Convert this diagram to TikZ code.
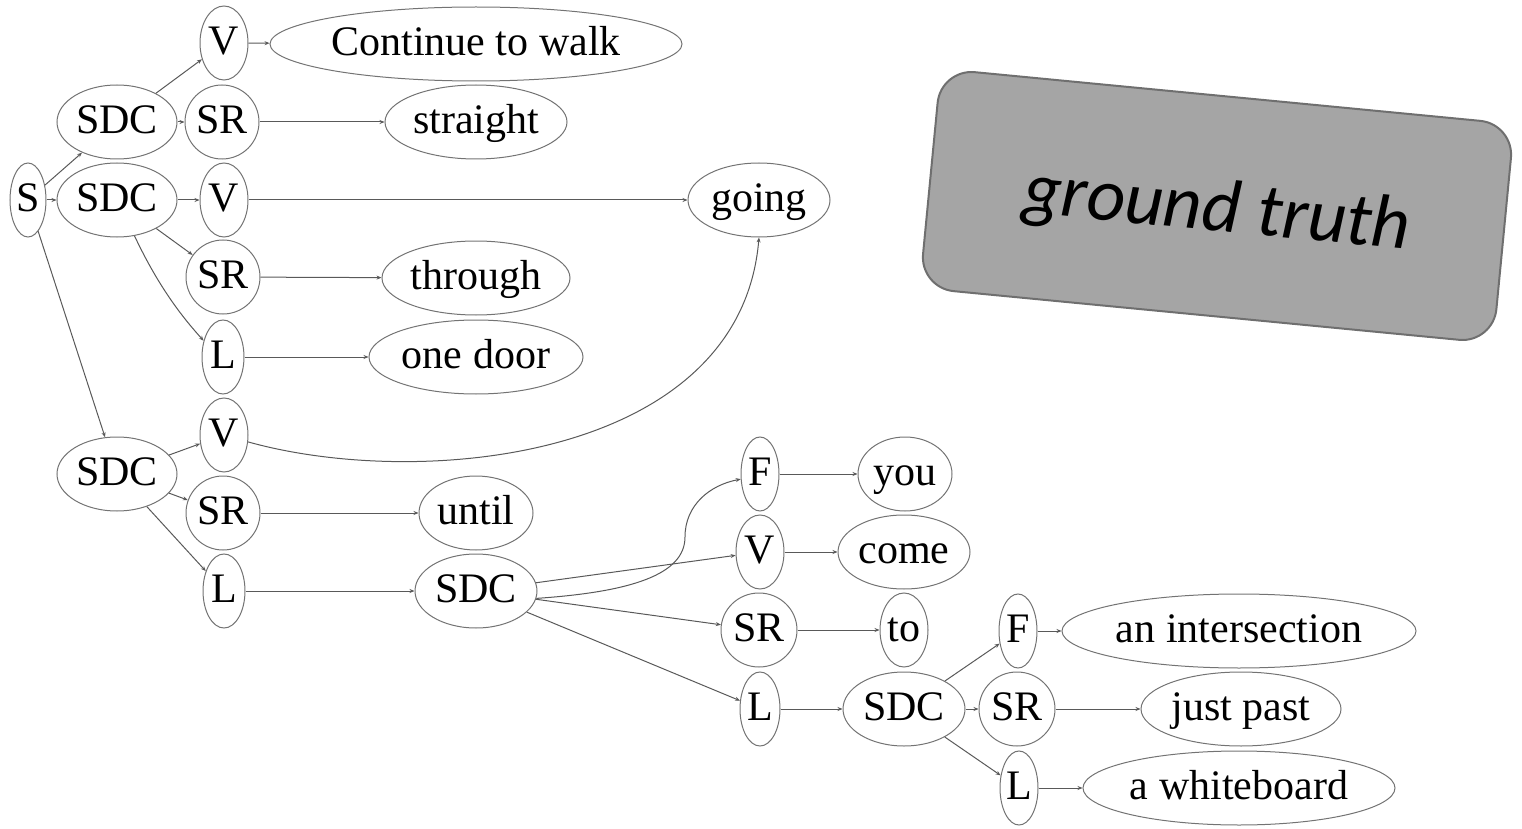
\documentclass[tikz,border=0pt]{standalone}
\usepackage{fontspec}
\setmainfont{Liberation Serif}
\newfontfamily\carlito{Carlito}
\usetikzlibrary{shapes.geometric,arrows.meta}
\definecolor{boxfill}{HTML}{A5A5A5}
\definecolor{boxline}{HTML}{6F6F6F}
\tikzset{
  el/.style={ellipse, draw=black!55, line width=0.5pt, inner sep=0pt, minimum height=37pt,
             text height=15.5pt, text depth=4pt,
             font=\fontsize{21}{23}\selectfont},
  conn/.style={draw=black!65, line width=0.5pt, -{Stealth[length=2.5pt,width=2pt]}},
}
\begin{document}
\begin{tikzpicture}[x=0.5pt,y=-0.5pt]
\useasboundingbox (0,0) rectangle (1522,829);
% nodes
\node[el, minimum width=18pt] (s) at (28,200) {S};
\node[el, minimum width=60pt] (sdcA) at (117,122) {SDC};
\node[el, minimum width=60pt] (sdcB) at (117,200) {SDC};
\node[el, minimum width=60pt] (sdcC) at (117,474) {SDC};
\node[el, minimum width=24pt] (vA) at (224,43) {V};
\node[el, minimum width=37pt] (srA) at (222,122) {SR};
\node[el, minimum width=24pt] (vB) at (224,200) {V};
\node[el, minimum width=37pt] (srB) at (223,277) {SR};
\node[el, minimum width=21pt] (lA) at (223,357) {L};
\node[el, minimum width=24pt] (vC) at (224,435) {V};
\node[el, minimum width=37pt] (srC) at (223,513) {SR};
\node[el, minimum width=21pt] (lB) at (224,591) {L};
\node[el, minimum width=206pt] (contw) at (476,44) {Continue to walk};
\node[el, minimum width=91pt] (straight) at (476,122) {straight};
\node[el, minimum width=71pt] (going) at (759,200) {going};
\node[el, minimum width=94pt] (through) at (476,278) {through};
\node[el, minimum width=107pt] (onedoor) at (476,357) {one door};
\node[el, minimum width=57pt] (until) at (476,513) {until};
\node[el, minimum width=61pt] (sdcD) at (476,591) {SDC};
\node[el, minimum width=19pt] (fA) at (760,474) {F};
\node[el, minimum width=47pt] (you) at (905,474) {you};
\node[el, minimum width=24pt] (vD) at (760,552) {V};
\node[el, minimum width=66pt] (come) at (904,552) {come};
\node[el, minimum width=38pt] (srD) at (759,630) {SR};
\node[el, minimum width=24pt] (to) at (904,630) {to};
\node[el, minimum width=20pt] (lC) at (760,709) {L};
\node[el, minimum width=61pt] (sdcE) at (904,709) {SDC};
\node[el, minimum width=19pt] (fB) at (1018,631) {F};
\node[el, minimum width=177pt] (inter) at (1239,631) {an intersection};
\node[el, minimum width=38pt] (srE) at (1017,709) {SR};
\node[el, minimum width=100pt] (justpast) at (1241,709) {just past};
\node[el, minimum width=19pt] (lD) at (1019,788) {L};
\node[el, minimum width=156pt] (white) at (1239,788) {a whiteboard};
% connectors
\draw[conn] (s) -- (sdcA);
\draw[conn] (s) -- (sdcB);
\draw[conn] (s) -- (sdcC);
\draw[conn] (sdcA) -- (vA);
\draw[conn] (sdcA) -- (srA);
\draw[conn] (vA) -- (contw);
\draw[conn] (srA) -- (straight);
\draw[conn] (sdcB) -- (vB);
\draw[conn] (sdcB) -- (srB);
\draw[conn] (sdcB.-64) .. controls (160,290) and (185,320) .. (lA.140);
\draw[conn] (vB) -- (going);
\draw[conn] (srB) -- (through);
\draw[conn] (lA) -- (onedoor);
\draw[conn] (sdcC) -- (vC);
\draw[conn] (sdcC) -- (srC);
\draw[conn] (sdcC) -- (lB);
\draw[conn] (vC.-16) .. controls (420,490) and (740,460) .. (going.south);
\draw[conn] (srC) -- (until);
\draw[conn] (lB) -- (sdcD);
\draw[conn] (sdcD.-7) .. controls (630,592) and (685,575) .. (685,537)
                      .. controls (685,505) and (710,485) .. (fA.195);
\draw[conn] (sdcD) -- (vD);
\draw[conn] (sdcD) -- (srD);
\draw[conn] (sdcD) -- (lC);
\draw[conn] (fA) -- (you);
\draw[conn] (vD) -- (come);
\draw[conn] (srD) -- (to);
\draw[conn] (lC) -- (sdcE);
\draw[conn] (sdcE) -- (fB);
\draw[conn] (sdcE) -- (srE);
\draw[conn] (sdcE) -- (lD);
\draw[conn] (fB) -- (inter);
\draw[conn] (srE) -- (justpast);
\draw[conn] (lD) -- (white);
% ground truth box
\node[draw=boxline, fill=boxfill, line width=1pt, rounded corners=17pt,
      minimum width=288pt, minimum height=110pt, rotate=-5.5,
      text height=32pt, text depth=7pt,
      font=\carlito\itshape\fontsize{37.5}{40}\selectfont] (gt) at (1217,206) {ground truth};
\end{tikzpicture}
\end{document}
